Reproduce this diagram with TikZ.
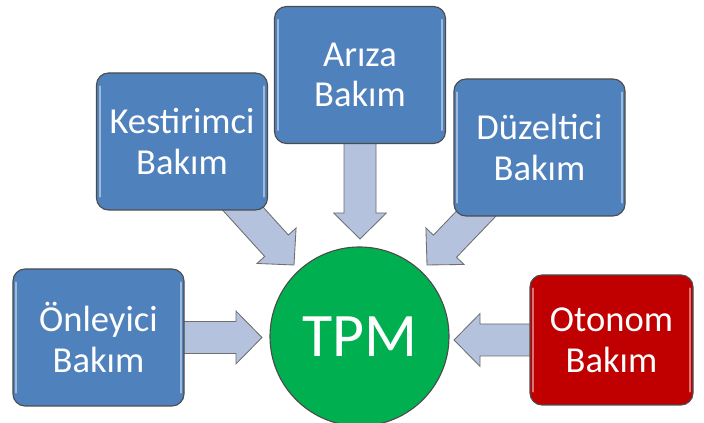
\documentclass[tikz,border=0pt]{standalone}
\usepackage{fontspec}
\setmainfont{Carlito}
\usepackage{tikz}
\usetikzlibrary{backgrounds}
\usetikzlibrary{calc,positioning,shapes}
\usetikzlibrary{arrows.meta}
\definecolor{bakimblue}{HTML}{4F81BD}
\definecolor{bakimred}{HTML}{C00000}
\definecolor{tpmgreen}{HTML}{00B050}
\definecolor{okfill}{HTML}{B4C2DD}
\definecolor{okline}{HTML}{6E6E6E}

\begin{document}
\begin{tikzpicture}
          \tikzstyle{bnode} = [draw=black!70, line width=0.8pt, fill=bakimblue, rounded corners=0.3cm, text=white, minimum width=4.275cm, minimum height=3.425cm, align=center, font=\fontsize{26}{29}\selectfont]
          \tikzstyle{rnode} = [bnode, fill=bakimred, minimum width=4.075cm, minimum height=3.25cm]
          \tikzstyle{tnode} = [circle, draw=black!70, line width=0.8pt, fill=tpmgreen, text=white, minimum size=4.475cm, font=\fontsize{44}{50}\selectfont]
          \tikzstyle{okarrow} = [draw=okline, fill=okfill, line width=0.6pt, line join=miter]
          \tikzstyle{shine} = [white, opacity=0.45, line width=1.4pt, line cap=round]

          \useasboundingbox (0,0) rectangle (17.6,10.575);

          \node[tnode] (tpm) at (8.9875,2.1625) {TPM};
          \node[bnode] (onl) at (2.4625,2.1375) {Önleyici\\Bakım};
          \node[bnode] (kes) at (4.55,7.0375) {Kestirimci\\Bakım};
          \node[bnode] (ari) at (9.0,8.7) {Arıza\\Bakım};
          \node[bnode] (duz) at (13.4875,6.8875) {Düzeltici\\Bakım};
          \node[rnode] (oto) at (15.2875,2.075) {Otonom\\Bakım};

          % arrow tips next to the circle
          \coordinate (onlT) at (6.55,2.1375);
          \coordinate (kesT) at (7.35,3.95);
          \coordinate (ariT) at (9.0,4.6);
          \coordinate (duzT) at (10.675,3.95);
          \coordinate (otoT) at (11.35,2.075);

          % light edges of the boxes
          \foreach \n in {onl, kes, ari, duz, oto}{
            \draw[shine] ($(\n.north west)+(0.09,-0.35)$) -- ($(\n.south west)+(0.09,0.35)$);
            \draw[shine] ($(\n.north east)+(-0.09,-0.35)$) -- ($(\n.south east)+(-0.09,0.35)$);
          }

          \begin{scope}[on background layer]
            \foreach \src/\tip in {onl/onlT, kes/kesT, ari/ariT, duz/duzT, oto/otoT}{
              \coordinate (hb) at ($(\tip)!0.65cm!(\src.center)$);
              \draw[okarrow] ($(\src.center)!0.4cm!90:(\tip)$) -- ($(hb)!0.4cm!90:(\tip)$) -- ($(hb)!0.66cm!90:(\tip)$) -- (\tip)
                -- ($(hb)!0.66cm!-90:(\tip)$) -- ($(hb)!0.4cm!-90:(\tip)$) -- ($(\src.center)!0.4cm!-90:(\tip)$) -- cycle;
            }
          \end{scope}
        \end{tikzpicture}
\end{document}
